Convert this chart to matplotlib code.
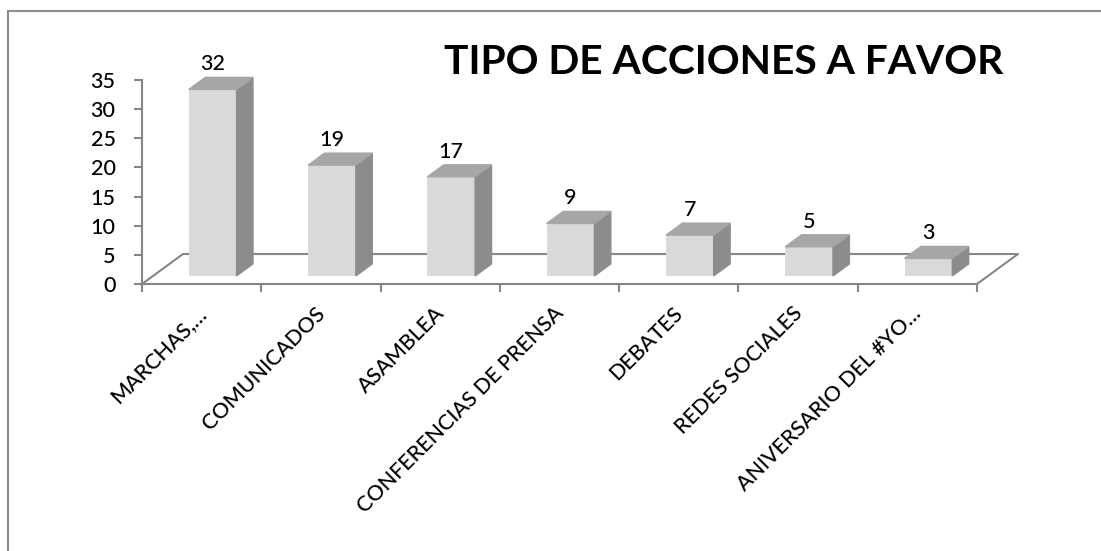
import matplotlib.pyplot as plt
from matplotlib.lines import Line2D
from matplotlib.patches import Polygon
from matplotlib.transforms import offset_copy

categories = [
    "MARCHAS,…",
    "COMUNICADOS",
    "ASAMBLEA",
    "CONFERENCIAS DE PRENSA",
    "DEBATES",
    "REDES SOCIALES",
    "ANIVERSARIO DEL #YO…",
]
values = [32, 19, 17, 9, 7, 5, 3]
y_ticks = [0, 5, 10, 15, 20, 25, 30, 35]
title = "TIPO DE ACCIONES A FAVOR"

FRONT = "#d9d9d9"
SIDE = "#8c8c8c"
TOP = "#a6a6a6"
AXIS = "#868686"

W, H = 1101, 551
# floor depth in data units (x in categories, y in values)
DEP_X = 41 / 119.3
DEP_Y = 30 / 5.829
F0, F1 = 0.27, 0.67   # bar front / back as fraction of floor depth
BAR_W = 0.40

plt.rcParams["font.family"] = ["Lato", "DejaVu Sans"]
plt.rcParams["font.weight"] = "medium"

fig = plt.figure(figsize=(W / 100, H / 100), dpi=100)
ax = fig.add_axes([142 / W, (H - 284) / H, 835 / W, 204 / H])
ax.set_xlim(0, len(categories))
ax.set_ylim(0, 35)

for side in ("top", "right"):
    ax.spines[side].set_visible(False)
for side in ("left", "bottom"):
    ax.spines[side].set_color(AXIS)
    ax.spines[side].set_linewidth(1.5)

ax.set_yticks(y_ticks)
ax.set_xticks(range(len(categories) + 1))
ax.tick_params(axis="y", direction="out", length=6, width=1.5, color=AXIS,
               pad=13, labelsize=15.5)
ax.tick_params(axis="x", direction="out", length=6, width=1.5, color=AXIS,
               labelbottom=False)

# floor outline (back and side edges)
n = len(categories)
floor_kw = dict(color=AXIS, lw=1.5, clip_on=False, zorder=1)
ax.plot([0, DEP_X, n + DEP_X, n], [0, DEP_Y, DEP_Y, 0], **floor_kw)

# 3D-looking columns
for i, v in enumerate(values):
    x0 = i + 0.5 - BAR_W / 2 + F0 * DEP_X
    y0 = F0 * DEP_Y
    dx = (F1 - F0) * DEP_X
    dy = (F1 - F0) * DEP_Y
    ax.bar(x0, v, width=BAR_W, bottom=y0, align="edge", color=FRONT,
           clip_on=False, zorder=3)
    x1 = x0 + BAR_W
    side = [(x1, y0), (x1 + dx, y0 + dy), (x1 + dx, y0 + dy + v), (x1, y0 + v)]
    top = [(x0, y0 + v), (x1, y0 + v), (x1 + dx, y0 + dy + v), (x0 + dx, y0 + dy + v)]
    ax.add_patch(Polygon(side, closed=True, color=SIDE, clip_on=False, zorder=3))
    ax.add_patch(Polygon(top, closed=True, color=TOP, clip_on=False, zorder=3))
    ax.annotate(str(v), xy=(x0 + BAR_W / 2, y0 + dy + v), xytext=(0, 5),
                textcoords="offset points", ha="center", va="baseline",
                fontsize=15.5, annotation_clip=False)

lbl_tr = offset_copy(ax.transData, fig=fig, x=-6, y=-19, units="dots")
for i, cat in enumerate(categories):
    ax.text(i + 0.5, 0, cat, transform=lbl_tr, rotation=45, ha="right",
            va="top", rotation_mode="anchor", fontsize=15.5)

fig.text(723.5 / W, 1 - 74 / H, title, ha="center", va="baseline",
         fontsize=29.3, fontweight="bold")

# chart area border (top and left only visible)
fig.add_artist(Line2D([8 / W, 1], [1 - 11 / H, 1 - 11 / H], color="#8c8c8c",
                      lw=1.5, transform=fig.transFigure))
fig.add_artist(Line2D([8 / W, 8 / W], [0, 1 - 11 / H], color="#8c8c8c",
                      lw=1.5, transform=fig.transFigure))

fig.savefig("out.png", dpi=100)
